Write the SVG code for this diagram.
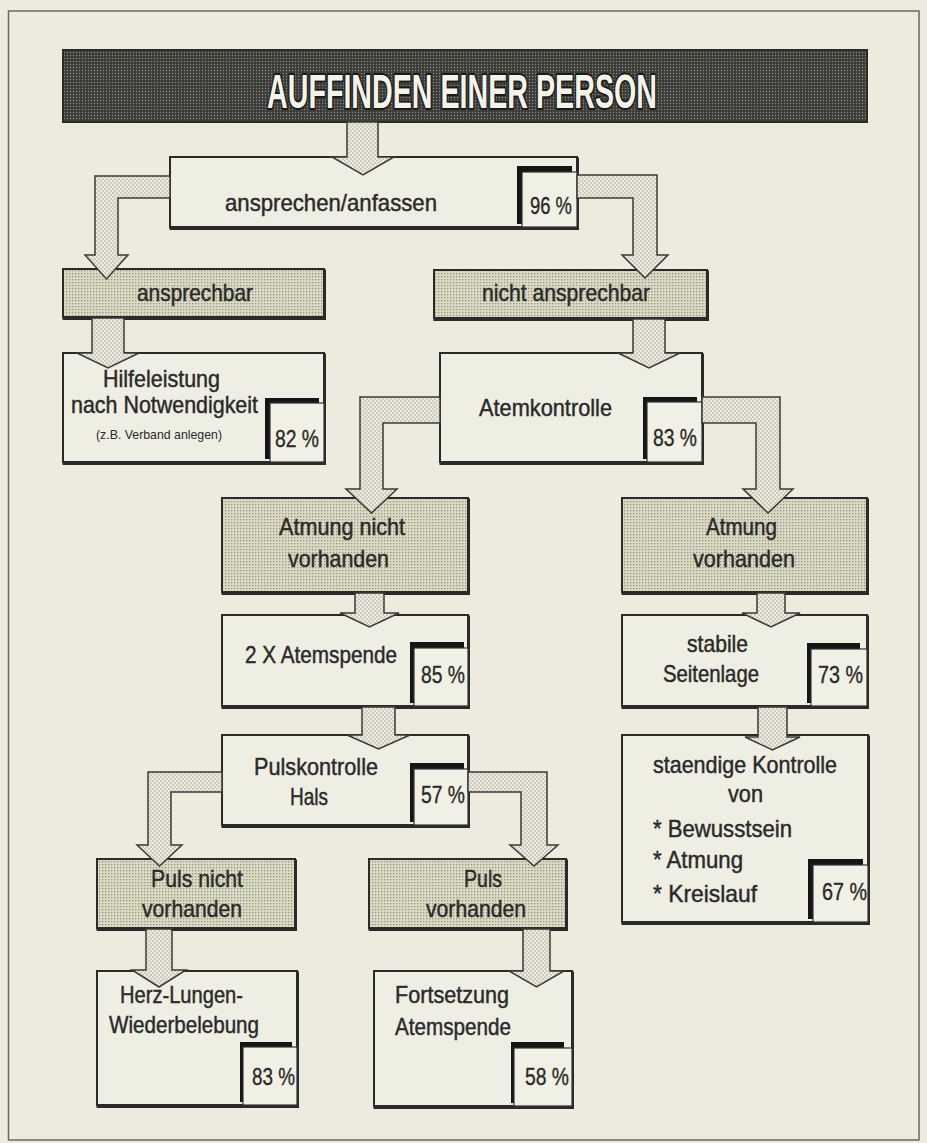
<svg xmlns="http://www.w3.org/2000/svg" width="927" height="1143" viewBox="0 0 927 1143">
<defs>
<pattern id="dots" width="4" height="4" patternUnits="userSpaceOnUse"><rect width="4" height="4" fill="#ebeadd"/><circle cx="1" cy="1" r="0.7" fill="#9a998b"/><circle cx="3" cy="3" r="0.7" fill="#9a998b"/></pattern>
<pattern id="shade" width="3" height="3" patternUnits="userSpaceOnUse"><rect width="3" height="3" fill="#dad9c2"/><rect width="1.3" height="1.3" fill="#96957f"/></pattern>
<pattern id="dark" width="3" height="3" patternUnits="userSpaceOnUse"><rect width="3" height="3" fill="#3c3c38"/><circle cx="1.5" cy="1.5" r="0.7" fill="#8c8c82"/></pattern>
<filter id="sh" x="-5%" y="-5%" width="110%" height="115%"><feFlood flood-color="#2b2b2b"/><feComposite in2="SourceAlpha" operator="in"/><feOffset dx="0.5" dy="1.5"/><feMerge><feMergeNode/><feMergeNode in="SourceGraphic"/></feMerge></filter>
<style>
.box{fill:#efeee3;stroke:#2b2b2b;stroke-width:2;filter:url(#sh)}
.sbox{fill:url(#shade);stroke:#2b2b2b;stroke-width:2;filter:url(#sh)}
.t{font-family:"Liberation Sans",Arial,sans-serif;font-size:24px;fill:#2a2a2a;stroke:#2a2a2a;stroke-width:0.45}
.s{font-family:"Liberation Sans",Arial,sans-serif;font-size:13px;fill:#2a2a2a}
.pct{font-family:"Liberation Sans",Arial,sans-serif;font-size:23px;fill:#2a2a2a;stroke:#2a2a2a;stroke-width:0.35}
.pb{fill:#151515}
.pw{fill:#f1f0e5;stroke:#333;stroke-width:1.2}
.arr{fill:url(#dots);stroke:#3a3a36;stroke-width:1.5;stroke-linejoin:miter}
.title{font-family:"Liberation Sans",Arial,sans-serif;font-size:48px;font-weight:bold;fill:#f4f3e8;stroke:#1a1a1a;stroke-width:4;paint-order:stroke;stroke-linejoin:round}
</style>
</defs>
<rect x="0" y="0" width="927" height="1143" fill="#ecebdd"/>
<rect x="8.5" y="11" width="910.5" height="1129" fill="none" stroke="#6a6a62" stroke-width="1.5"/>

<g id="title">
<rect x="63" y="50" width="804" height="72" fill="url(#dark)" stroke="#2b2b28" stroke-width="2"/>
<text class="title" x="267" y="108" textLength="390" lengthAdjust="spacingAndGlyphs">AUFFINDEN EINER  PERSON</text>
</g>

<g id="n-ansprechen">
<rect class="box" x="170" y="157" width="407" height="70"/>
<text class="t" x="225" y="211" textLength="212" lengthAdjust="spacingAndGlyphs">ansprechen/anfassen</text>
<rect class="pb" x="517" y="166" width="55" height="58"/>
<rect class="pw" x="522" y="172" width="55" height="55"/>
<text class="pct" x="530" y="214" textLength="42" lengthAdjust="spacingAndGlyphs">96 %</text>
</g>

<g id="n-ansprechbar">
<rect class="sbox" x="63" y="269" width="261" height="48"/>
<text class="t" x="137" y="301" textLength="116" lengthAdjust="spacingAndGlyphs">ansprechbar</text>
</g>

<g id="n-nicht-ansprechbar">
<rect class="sbox" x="434" y="270" width="273" height="48"/>
<text class="t" x="482" y="301" textLength="168" lengthAdjust="spacingAndGlyphs">nicht ansprechbar</text>
</g>

<g id="n-hilfeleistung">
<rect class="box" x="63" y="353" width="261" height="109"/>
<text class="t" x="103" y="387" textLength="117" lengthAdjust="spacingAndGlyphs">Hilfeleistung</text>
<text class="t" x="71" y="413" textLength="187" lengthAdjust="spacingAndGlyphs">nach Notwendigkeit</text>
<text class="s" x="96" y="439" textLength="126" lengthAdjust="spacingAndGlyphs">(z.B. Verband anlegen)</text>
<rect class="pb" x="265" y="398" width="54" height="61"/>
<rect class="pw" x="270" y="403" width="54" height="59"/>
<text class="pct" x="275" y="447" textLength="44" lengthAdjust="spacingAndGlyphs">82 %</text>
</g>

<g id="n-atemkontrolle">
<rect class="box" x="440" y="353" width="262" height="109"/>
<text class="t" x="479" y="416" textLength="133" lengthAdjust="spacingAndGlyphs">Atemkontrolle</text>
<rect class="pb" x="643" y="397" width="54" height="62"/>
<rect class="pw" x="647" y="402" width="55" height="60"/>
<text class="pct" x="653" y="446" textLength="44" lengthAdjust="spacingAndGlyphs">83 %</text>
</g>

<g id="n-atmung-nicht">
<rect class="sbox" x="222" y="498" width="246" height="94"/>
<text class="t" x="279" y="535" textLength="126" lengthAdjust="spacingAndGlyphs">Atmung nicht</text>
<text class="t" x="288" y="567" textLength="101" lengthAdjust="spacingAndGlyphs">vorhanden</text>
</g>

<g id="n-atmung-vorhanden">
<rect class="sbox" x="622" y="498" width="245" height="94"/>
<text class="t" x="706" y="535" textLength="71" lengthAdjust="spacingAndGlyphs">Atmung</text>
<text class="t" x="693" y="567" textLength="102" lengthAdjust="spacingAndGlyphs">vorhanden</text>
</g>

<g id="n-atemspende">
<rect class="box" x="222" y="615" width="246" height="91"/>
<text class="t" x="245" y="663" textLength="152" lengthAdjust="spacingAndGlyphs">2 X Atemspende</text>
<rect class="pb" x="410" y="642" width="54" height="61"/>
<rect class="pw" x="414" y="648" width="54" height="58"/>
<text class="pct" x="421" y="683" textLength="44" lengthAdjust="spacingAndGlyphs">85 %</text>
</g>

<g id="n-pulskontrolle">
<rect class="box" x="222" y="735" width="246" height="90"/>
<text class="t" x="254" y="775" textLength="124" lengthAdjust="spacingAndGlyphs">Pulskontrolle</text>
<text class="t" x="290" y="805" textLength="38" lengthAdjust="spacingAndGlyphs">Hals</text>
<rect class="pb" x="410" y="763" width="54" height="59"/>
<rect class="pw" x="414" y="769" width="54" height="56"/>
<text class="pct" x="421" y="803" textLength="44" lengthAdjust="spacingAndGlyphs">57 %</text>
</g>

<g id="n-stabile">
<rect class="box" x="622" y="615" width="245" height="91"/>
<text class="t" x="687" y="652" textLength="61" lengthAdjust="spacingAndGlyphs">stabile</text>
<text class="t" x="663" y="682" textLength="96" lengthAdjust="spacingAndGlyphs">Seitenlage</text>
<rect class="pb" x="807" y="643" width="53" height="60"/>
<rect class="pw" x="811" y="649" width="56" height="57"/>
<text class="pct" x="818" y="683" textLength="45" lengthAdjust="spacingAndGlyphs">73 %</text>
</g>

<g id="n-staendige">
<rect class="box" x="622" y="735" width="246" height="187"/>
<text class="t" x="653" y="773" textLength="184" lengthAdjust="spacingAndGlyphs">staendige Kontrolle</text>
<text class="t" x="728" y="802" textLength="35" lengthAdjust="spacingAndGlyphs">von</text>
<text class="t" x="653" y="837" textLength="139" lengthAdjust="spacingAndGlyphs">* Bewusstsein</text>
<text class="t" x="653" y="868" textLength="90" lengthAdjust="spacingAndGlyphs">* Atmung</text>
<text class="t" x="653" y="902" textLength="104" lengthAdjust="spacingAndGlyphs">* Kreislauf</text>
<rect class="pb" x="808" y="859" width="55" height="60"/>
<rect class="pw" x="813" y="865" width="55" height="57"/>
<text class="pct" x="822" y="900" textLength="45" lengthAdjust="spacingAndGlyphs">67 %</text>
</g>

<g id="n-puls-nicht">
<rect class="sbox" x="97" y="859" width="198" height="69"/>
<text class="t" x="151" y="887" textLength="92" lengthAdjust="spacingAndGlyphs">Puls nicht</text>
<text class="t" x="142" y="917" textLength="100" lengthAdjust="spacingAndGlyphs">vorhanden</text>
</g>

<g id="n-puls-vorhanden">
<rect class="sbox" x="369" y="859" width="197" height="69"/>
<text class="t" x="464" y="887" textLength="38" lengthAdjust="spacingAndGlyphs">Puls</text>
<text class="t" x="426" y="917" textLength="100" lengthAdjust="spacingAndGlyphs">vorhanden</text>
</g>

<g id="n-hlw">
<rect class="box" x="97" y="971" width="200" height="134"/>
<text class="t" x="120" y="1003" textLength="123" lengthAdjust="spacingAndGlyphs">Herz-Lungen-</text>
<text class="t" x="109" y="1033" textLength="150" lengthAdjust="spacingAndGlyphs">Wiederbelebung</text>
<rect class="pb" x="240" y="1042" width="52" height="60"/>
<rect class="pw" x="243" y="1047" width="54" height="58"/>
<text class="pct" x="252" y="1085" textLength="43" lengthAdjust="spacingAndGlyphs">83 %</text>
</g>

<g id="n-fortsetzung">
<rect class="box" x="374" y="971" width="198" height="135"/>
<text class="t" x="395" y="1003" textLength="114" lengthAdjust="spacingAndGlyphs">Fortsetzung</text>
<text class="t" x="395" y="1035" textLength="116" lengthAdjust="spacingAndGlyphs">Atemspende</text>
<rect class="pb" x="511" y="1042" width="53" height="61"/>
<rect class="pw" x="514" y="1048" width="58" height="58"/>
<text class="pct" x="525" y="1085" textLength="44" lengthAdjust="spacingAndGlyphs">58 %</text>
</g>

<g id="connectors">
<path class="arr" d="M347 122 L347 157 L332 157 L363 175 L394 157 L378 157 L378 122 Z"/>
<path class="arr" d="M170 176 L95 176 L95 255 L85 255 L106.5 279 L128 255 L118 255 L118 198 L170 198 Z"/>
<path class="arr" d="M577 175 L657 175 L657 255 L668 255 L645 278 L622 255 L633 255 L633 198 L577 198 Z"/>
<path class="arr" d="M92 318 L92 353 L77 353 L108 368 L139 353 L124 353 L124 318 Z"/>
<path class="arr" d="M633 319 L633 353 L618 353 L649 368 L680 353 L665 353 L665 319 Z"/>
<path class="arr" d="M440 397 L360 397 L360 489 L346 489 L371.5 513 L397 489 L383 489 L383 423 L440 423 Z"/>
<path class="arr" d="M702 397 L780 397 L780 489 L793 489 L768 513 L743 489 L756 489 L756 423 L702 423 Z"/>
<path class="arr" d="M355 593 L355 613 L340 613 L369.5 627 L399 613 L384 613 L384 593 Z"/>
<path class="arr" d="M757 593 L757 613 L742 613 L771 627 L800 613 L785 613 L785 593 Z"/>
<path class="arr" d="M362 707 L362 735 L347 735 L378.5 749 L410 735 L395 735 L395 707 Z"/>
<path class="arr" d="M758 707 L758 737 L745 737 L772.5 750 L800 737 L787 737 L787 707 Z"/>
<path class="arr" d="M222 772 L148 772 L148 845 L137 845 L159.5 866 L182 845 L171 845 L171 792 L222 792 Z"/>
<path class="arr" d="M468 772 L547 772 L547 845 L558 845 L534 866 L510 845 L521 845 L521 792 L468 792 Z"/>
<path class="arr" d="M146 929 L146 970 L132 970 L159 987 L186 970 L172 970 L172 929 Z"/>
<path class="arr" d="M523 929 L523 971 L509 971 L536.5 987 L564 971 L550 971 L550 929 Z"/>
</g>
</svg>
